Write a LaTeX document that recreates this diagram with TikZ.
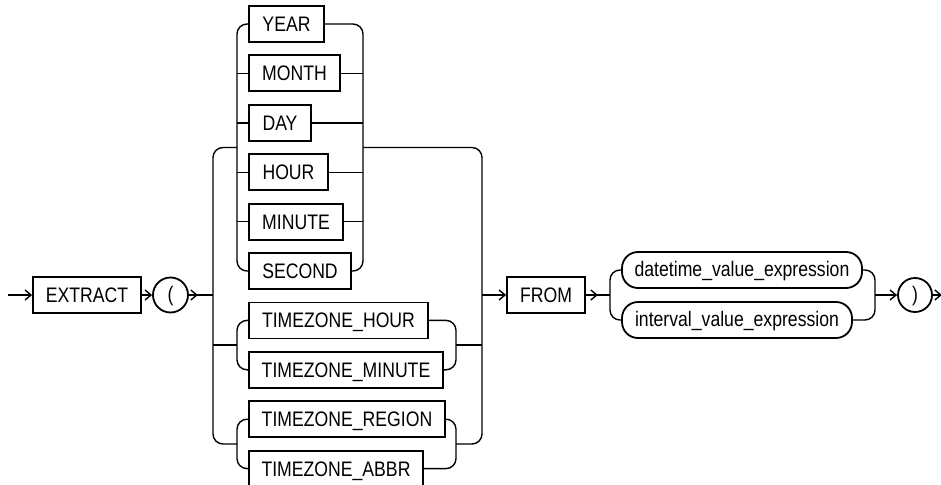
\documentclass[tikz,border=0pt]{standalone}
\usepackage{fontspec}
\setmainfont{Liberation Sans}[FakeStretch=0.84]
\usetikzlibrary{arrows.meta}
\begin{document}
\begin{tikzpicture}[x=1pt,y=1pt,
  line width=1.4pt,
  arr/.style={-{Straight Barb[length=6pt,width=10pt,line width=1.4pt]}},
  kw/.style={draw,line width=1.8pt,inner sep=0pt,minimum height=36pt,
     text height=15pt,text depth=0pt,font=\fontsize{21}{22}\selectfont},
  ref/.style={draw,line width=1.8pt,inner sep=0pt,minimum height=36pt,rounded corners=16pt,
     text height=15.5pt,text depth=2.5pt,font=\fontsize{21}{22}\selectfont},
  sym/.style={draw,circle,line width=1.8pt,inner sep=0pt,minimum size=35pt,
     text height=15pt,text depth=3pt,font=\fontsize{21}{22}\selectfont}]
\useasboundingbox (0,0) rectangle (941,-484);

% main line nodes
\coordinate (start) at (8,-295);
\node[kw,minimum width=108pt] (extract) at (87,-295) {EXTRACT};
\node[sym] (lp) at (170.5,-295) {(};

% group A
\node[kw,minimum width=75pt]  (year)   at (286.5,-24)   {YEAR};
\node[kw,minimum width=91pt]  (month)  at (294.5,-73.4) {MONTH};
\node[kw,minimum width=62pt]  (day)    at (280,-122.8)  {DAY};
\node[kw,minimum width=79pt]  (hour)   at (288.5,-172.2){HOUR};
\node[kw,minimum width=94pt]  (minute) at (296,-221.6)  {MINUTE};
\node[kw,minimum width=102pt] (second) at (300,-271)    {SECOND};

% groups B and C
\node[kw,minimum width=179pt] (tzh) at (338.5,-320.4) {TIMEZONE\_HOUR};
\node[kw,minimum width=194pt] (tzm) at (346,-369.8)   {TIMEZONE\_MINUTE};
\node[kw,minimum width=196pt] (tzr) at (347,-419.2)   {TIMEZONE\_REGION};
\node[kw,minimum width=174pt] (tza) at (336,-468.6)   {TIMEZONE\_ABBR};

\node[kw,minimum width=78pt] (from) at (546,-295) {FROM};
\node[ref,minimum width=240pt] (dt) at (742,-270) {datetime\_value\_expression};
\node[ref,minimum width=230pt] (iv) at (737,-320) {interval\_value\_expression};
\node[sym,minimum size=34pt] (rp) at (915,-295) {)};

% junction coordinates
\coordinate (oL) at (213,0);
\coordinate (aL) at (237,0);
\coordinate (aR) at (363,0);
\coordinate (bR) at (456,0);
\coordinate (oR) at (482,0);
\coordinate (cL) at (610,0);
\coordinate (cR) at (875,0);
\coordinate (jA) at (237,-147.5);
\coordinate (jAr) at (363,-147.5);
\coordinate (jB) at (237,-345);
\coordinate (jBr) at (456,-345);
\coordinate (jC) at (237,-444);
\coordinate (jCr) at (456,-444);
\coordinate (mL) at (213,-295);
\coordinate (mR) at (482,-295);
\coordinate (fL) at (610,-295);
\coordinate (fR) at (875,-295);

% main line
\draw[arr] (start) -- (extract.west);
\draw[arr] (extract.east) -- (lp.west);
\draw (lp.east) -- (mL);
\draw[arr] (lp.east) -- ++(9,0);

% outer group
\draw[rounded corners=10pt] (jA) -- (jA -| oL) -- (jC -| oL) -- (jC);
\draw (jB -| oL) -- (jB);
\draw[rounded corners=10pt] (jAr) -- (jAr -| oR) -- (jCr -| oR) -- (jCr);
\draw (jBr) -- (jBr -| oR);
\draw[arr] (mR) -- (from.west);

% group A
\draw[rounded corners=10pt] (year.west) -- (year.west -| aL) -- (second.west -| aL) -- (second.west);
\draw[rounded corners=10pt] (year.east) -- (year.east -| aR) -- (second.east -| aR) -- (second.east);
\foreach \n in {month,day,hour,minute}{
  \draw (\n.west -| aL) -- (\n.west);
  \draw (\n.east) -- (\n.east -| aR);
}

% group B
\draw[rounded corners=10pt] (tzh.west) -- (tzh.west -| aL) -- (tzm.west -| aL) -- (tzm.west);
\draw[rounded corners=10pt] (tzh.east) -- (tzh.east -| bR) -- (tzm.east -| bR) -- (tzm.east);
% group C
\draw[rounded corners=10pt] (tzr.west) -- (tzr.west -| aL) -- (tza.west -| aL) -- (tza.west);
\draw[rounded corners=10pt] (tzr.east) -- (tzr.east -| bR) -- (tza.east -| bR) -- (tza.east);

% FROM and final group
\draw (from.east) -- (fL);
\draw[arr] (from.east) -- ++(12,0);
\draw[rounded corners=10pt] (dt.west) -- (dt.west -| cL) -- (iv.west -| cL) -- (iv.west);
\draw[rounded corners=10pt] (dt.east) -- (dt.east -| cR) -- (iv.east -| cR) -- (iv.east);
\draw[arr] (fR) -- (rp.west);
\draw[arr] (rp.east) -- ++(9,0);
\end{tikzpicture}
\end{document}
